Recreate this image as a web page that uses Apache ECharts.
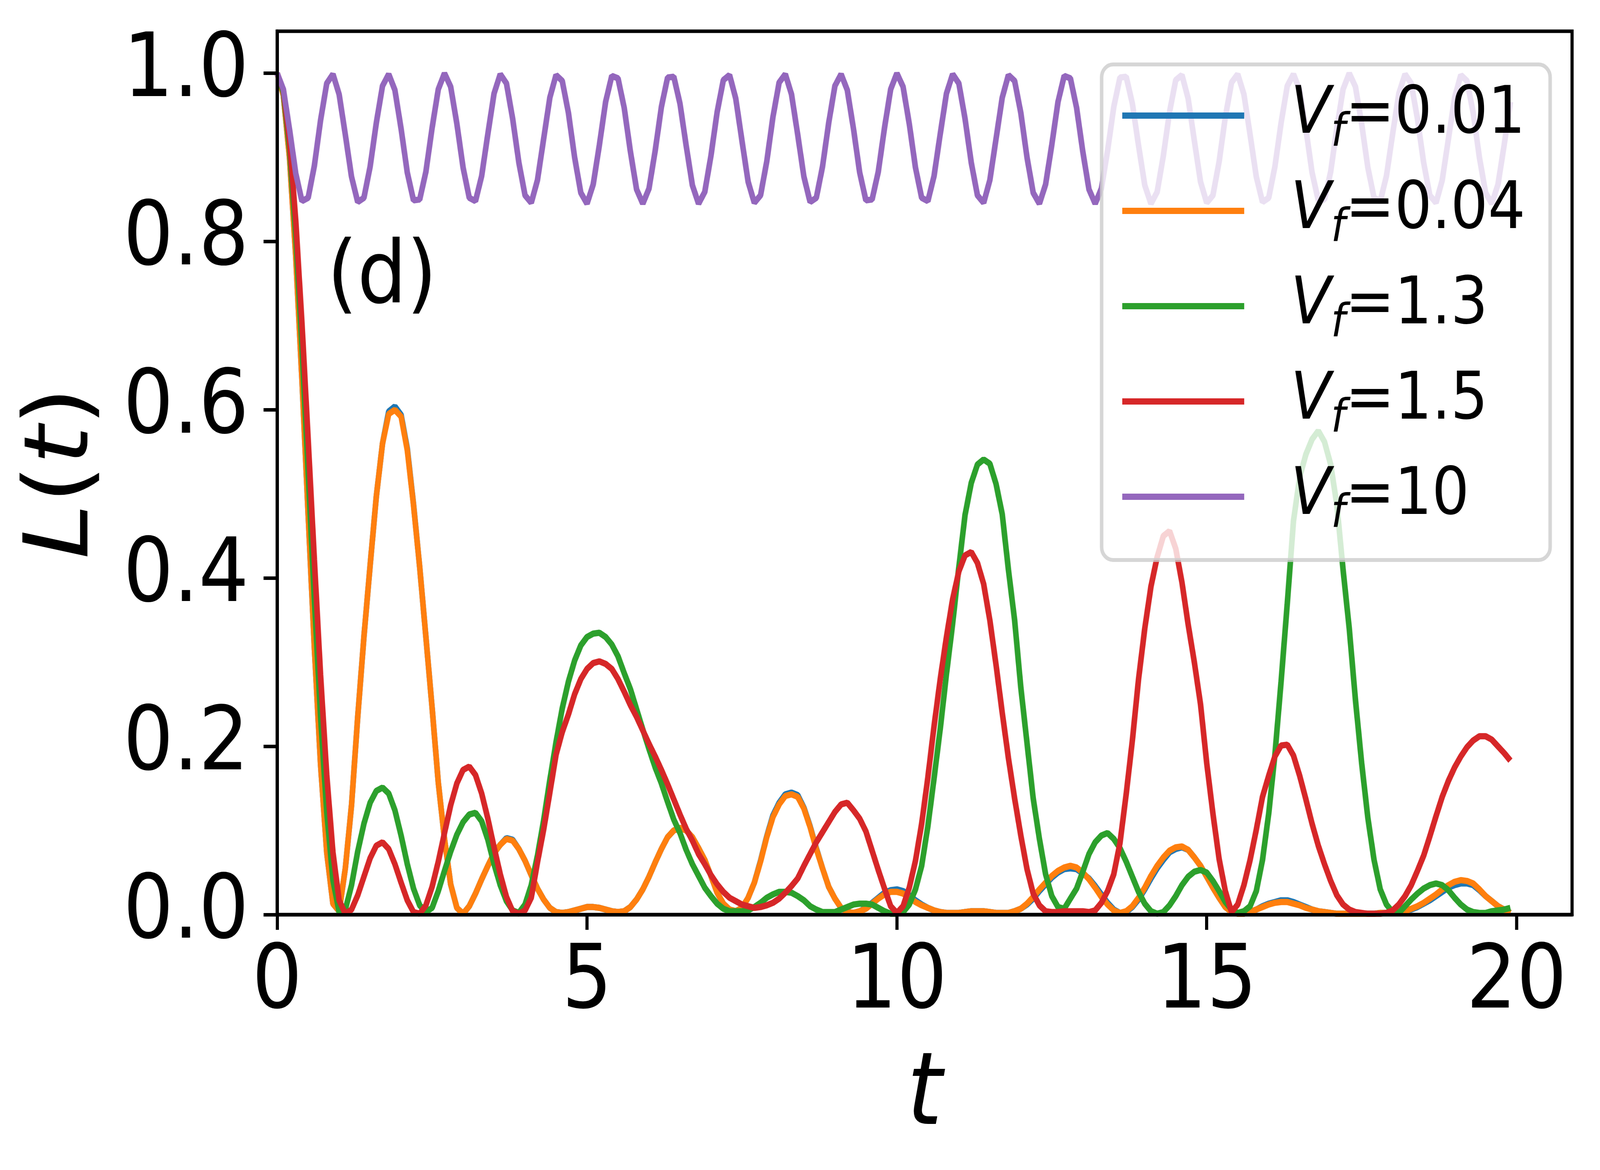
<!DOCTYPE html>
<html>
<head>
<meta charset="UTF-8">
<script src="https://cdn.jsdelivr.net/npm/echarts@6/dist/echarts.min.js"></script>
<style>
  html, body { margin: 0; padding: 0; background: #fff; overflow: hidden; }
  #chart { width: 4578px; height: 2996px; transform-origin: 0 0; }
</style>
</head>
<body>
<div id="chart"></div>
<script>
// sampling grid of the curves: t = 0, 0.1, ... 19.9
var tStep = 0.1;
var xTicks = [0, 5, 10, 15, 20];
var yTicks = [0, 0.2, 0.4, 0.6, 0.8, 1.0];
var names = ['V_f=0.01', 'V_f=0.04', 'V_f=1.3', 'V_f=1.5', 'V_f=10'];
var colors = ['#1f77b4', '#ff7f0e', '#2ca02c', '#d62728', '#9467bd'];

// L(t), one row per unit of t
var vf001 = [
  1.000,0.974,0.899,0.782,0.636,0.476,0.318,0.179,0.074,0.013,
  0.004,0.055,0.130,0.235,0.330,0.415,0.497,0.560,0.598,0.604,
  0.594,0.554,0.488,0.413,0.330,0.246,0.157,0.090,0.036,0.008,
  0.001,0.010,0.025,0.042,0.058,0.073,0.083,0.091,0.089,0.078,
  0.064,0.047,0.031,0.018,0.008,0.003,0.002,0.003,0.005,0.007,
  0.009,0.009,0.008,0.006,0.004,0.003,0.004,0.009,0.018,0.030,
  0.045,0.062,0.078,0.092,0.100,0.103,0.100,0.092,0.079,0.065,
  0.046,0.026,0.013,0.006,0.004,0.008,0.020,0.038,0.064,0.093,
  0.118,0.133,0.143,0.145,0.142,0.127,0.105,0.079,0.055,0.033,
  0.019,0.008,0.003,0.002,0.004,0.008,0.014,0.020,0.026,0.029,
  0.030,0.028,0.023,0.017,0.012,0.008,0.005,0.003,0.002,0.002,
  0.002,0.003,0.004,0.004,0.004,0.003,0.002,0.002,0.002,0.004,
  0.007,0.012,0.019,0.028,0.036,0.044,0.050,0.054,0.055,0.054,
  0.049,0.043,0.034,0.024,0.014,0.006,0.002,0.003,0.009,0.018,
  0.030,0.043,0.055,0.065,0.074,0.078,0.080,0.077,0.068,0.058,
  0.045,0.032,0.020,0.009,0.003,0.001,0.001,0.003,0.006,0.010,
  0.013,0.015,0.017,0.017,0.015,0.012,0.009,0.006,0.004,0.003,
  0.002,0.001,0.001,0.001,0.001,0.001,0.001,0.001,0.002,0.002,
  0.002,0.003,0.004,0.006,0.009,0.013,0.017,0.022,0.027,0.032,
  0.035,0.037,0.037,0.035,0.029,0.022,0.016,0.010,0.006,0.002
];
var vf004 = [
  1.000,0.974,0.899,0.782,0.636,0.476,0.318,0.179,0.074,0.013,
  0.004,0.055,0.130,0.235,0.330,0.415,0.497,0.560,0.595,0.600,
  0.592,0.552,0.487,0.413,0.330,0.246,0.157,0.090,0.036,0.008,
  0.001,0.010,0.025,0.042,0.058,0.073,0.083,0.090,0.088,0.078,
  0.064,0.047,0.031,0.018,0.008,0.003,0.002,0.003,0.005,0.007,
  0.009,0.009,0.008,0.006,0.004,0.003,0.004,0.009,0.018,0.030,
  0.045,0.062,0.078,0.092,0.100,0.103,0.100,0.092,0.079,0.065,
  0.046,0.026,0.013,0.006,0.004,0.008,0.020,0.038,0.063,0.092,
  0.116,0.131,0.141,0.143,0.140,0.126,0.104,0.078,0.055,0.033,
  0.019,0.008,0.003,0.002,0.004,0.007,0.013,0.019,0.024,0.027,
  0.027,0.025,0.020,0.015,0.011,0.008,0.005,0.003,0.002,0.002,
  0.002,0.003,0.004,0.004,0.004,0.003,0.002,0.002,0.002,0.004,
  0.007,0.013,0.021,0.030,0.038,0.046,0.052,0.056,0.058,0.056,
  0.050,0.042,0.032,0.021,0.012,0.005,0.002,0.004,0.010,0.020,
  0.032,0.046,0.058,0.068,0.076,0.080,0.081,0.077,0.068,0.058,
  0.045,0.032,0.020,0.009,0.003,0.001,0.001,0.003,0.006,0.009,
  0.012,0.014,0.015,0.015,0.013,0.011,0.008,0.006,0.004,0.003,
  0.002,0.001,0.001,0.001,0.001,0.001,0.001,0.001,0.002,0.002,
  0.002,0.003,0.004,0.007,0.010,0.014,0.019,0.024,0.030,0.035,
  0.039,0.041,0.040,0.037,0.030,0.022,0.016,0.010,0.006,0.002
];
var vf13 = [
  1.000,0.977,0.910,0.806,0.674,0.525,0.375,0.236,0.122,0.041,
  0.003,0.006,0.035,0.075,0.108,0.133,0.147,0.151,0.144,0.124,
  0.094,0.060,0.031,0.011,0.003,0.008,0.028,0.052,0.075,0.095,
  0.110,0.119,0.121,0.111,0.089,0.060,0.035,0.016,0.005,0.002,
  0.012,0.035,0.070,0.112,0.160,0.205,0.245,0.277,0.302,0.320,
  0.330,0.334,0.335,0.330,0.321,0.307,0.287,0.268,0.244,0.220,
  0.197,0.175,0.156,0.134,0.113,0.097,0.077,0.060,0.046,0.032,
  0.022,0.013,0.007,0.004,0.004,0.004,0.005,0.009,0.014,0.020,
  0.024,0.027,0.027,0.026,0.022,0.017,0.010,0.006,0.003,0.003,
  0.003,0.006,0.009,0.012,0.013,0.013,0.012,0.008,0.004,0.001,
  0.001,0.003,0.012,0.030,0.058,0.105,0.162,0.221,0.286,0.346,
  0.413,0.475,0.513,0.535,0.541,0.536,0.512,0.476,0.410,0.350,
  0.270,0.204,0.138,0.090,0.048,0.022,0.009,0.007,0.019,0.031,
  0.051,0.072,0.086,0.094,0.097,0.090,0.079,0.063,0.045,0.027,
  0.013,0.004,0.001,0.003,0.011,0.022,0.035,0.045,0.051,0.053,
  0.050,0.040,0.028,0.015,0.006,0.002,0.004,0.010,0.028,0.065,
  0.120,0.190,0.277,0.370,0.468,0.520,0.547,0.565,0.575,0.562,
  0.535,0.487,0.410,0.340,0.255,0.180,0.115,0.065,0.030,0.012,
  0.003,0.002,0.010,0.018,0.025,0.031,0.035,0.037,0.035,0.029,
  0.020,0.012,0.006,0.003,0.002,0.002,0.004,0.005,0.006,0.008
];
var vf15 = [
  1.000,0.980,0.919,0.825,0.703,0.565,0.422,0.285,0.166,0.074,
  0.017,0.001,0.006,0.023,0.045,0.067,0.082,0.086,0.078,0.060,
  0.038,0.017,0.003,0.001,0.011,0.033,0.063,0.097,0.130,0.156,
  0.172,0.176,0.166,0.144,0.114,0.080,0.048,0.021,0.004,0.001,
  0.005,0.020,0.062,0.101,0.145,0.190,0.217,0.238,0.262,0.280,
  0.292,0.299,0.301,0.298,0.292,0.280,0.265,0.249,0.235,0.219,
  0.203,0.188,0.172,0.155,0.137,0.119,0.102,0.088,0.072,0.060,
  0.047,0.036,0.027,0.020,0.016,0.012,0.010,0.008,0.009,0.011,
  0.014,0.019,0.026,0.034,0.043,0.058,0.072,0.086,0.098,0.110,
  0.122,0.131,0.133,0.124,0.114,0.099,0.076,0.053,0.031,0.010,
  0.002,0.010,0.032,0.064,0.108,0.163,0.224,0.280,0.330,0.375,
  0.408,0.427,0.431,0.418,0.393,0.350,0.297,0.240,0.186,0.138,
  0.094,0.054,0.025,0.011,0.004,0.003,0.003,0.004,0.004,0.004,
  0.004,0.003,0.005,0.014,0.028,0.048,0.085,0.143,0.207,0.280,
  0.340,0.390,0.425,0.450,0.456,0.435,0.395,0.345,0.300,0.250,
  0.180,0.120,0.066,0.028,0.003,0.012,0.035,0.065,0.101,0.140,
  0.165,0.188,0.201,0.202,0.189,0.165,0.137,0.108,0.082,0.060,
  0.040,0.023,0.012,0.006,0.003,0.002,0.001,0.001,0.001,0.002,
  0.005,0.012,0.022,0.035,0.052,0.070,0.093,0.117,0.140,0.159,
  0.175,0.188,0.199,0.207,0.212,0.212,0.208,0.200,0.192,0.183
];
var vf10 = [
  1.000,0.981,0.933,0.881,0.848,0.852,0.890,0.944,0.988,0.999,
  0.975,0.927,0.877,0.847,0.852,0.889,0.941,0.985,0.999,0.980,
  0.934,0.882,0.849,0.850,0.883,0.935,0.981,1.000,0.984,0.940,
  0.888,0.852,0.848,0.878,0.928,0.976,0.999,0.988,0.946,0.894,
  0.855,0.846,0.873,0.922,0.971,0.998,0.991,0.953,0.900,0.858,
  0.845,0.868,0.915,0.966,0.997,0.994,0.959,0.907,0.862,0.845,
  0.863,0.908,0.960,0.995,0.996,0.964,0.914,0.867,0.845,0.859,
  0.902,0.954,0.992,0.998,0.970,0.920,0.871,0.846,0.855,0.895,
  0.948,0.989,0.999,0.975,0.927,0.877,0.847,0.852,0.889,0.941,
  0.985,0.999,0.980,0.934,0.882,0.849,0.850,0.883,0.935,0.981,
  1.000,0.984,0.940,0.888,0.852,0.848,0.878,0.928,0.976,0.999,
  0.988,0.946,0.894,0.855,0.846,0.873,0.922,0.971,0.998,0.991,
  0.953,0.900,0.858,0.845,0.868,0.915,0.966,0.997,0.994,0.959,
  0.907,0.862,0.845,0.863,0.908,0.960,0.995,0.996,0.964,0.914,
  0.867,0.845,0.859,0.902,0.954,0.992,0.998,0.970,0.920,0.871,
  0.846,0.855,0.895,0.948,0.989,0.999,0.975,0.927,0.877,0.847,
  0.852,0.889,0.941,0.985,0.999,0.980,0.934,0.882,0.849,0.850,
  0.883,0.935,0.981,1.000,0.984,0.940,0.888,0.852,0.848,0.878,
  0.928,0.976,0.999,0.988,0.946,0.894,0.855,0.846,0.873,0.922,
  0.971,0.998,0.991,0.953,0.900,0.858,0.845,0.868,0.915,0.966
];
var allSeries = [vf001, vf004, vf13, vf15, vf10];

var FONT = 'DejaVu Sans';

// the browser may give a smaller viewport than the 4578x2996 figure:
// draw at full size and squeeze the whole figure to fit
var box = document.getElementById('chart');
var sx = Math.min(1, window.innerWidth / 4578);
var sy = Math.min(1, window.innerHeight / 2996);
box.style.transform = 'scale(' + sx + ',' + sy + ')';

function pairs(arr) {
  var out = [];
  for (var i = 0; i < arr.length; i++) {
    out.push([Math.round(i * tStep * 10) / 10, arr[i]]);
  }
  return out;
}

var series = [];
for (var s = 0; s < allSeries.length; s++) {
  series.push({
    name: names[s],
    type: 'line',
    data: pairs(allSeries[s]),
    symbol: 'none',
    showSymbol: false,
    smooth: false,
    clip: true,
    color: colors[s],
    lineStyle: { color: colors[s], width: 16 },
    emphasis: { disabled: true }
  });
}

var chart = echarts.init(box, null, { renderer: 'canvas', width: 4578, height: 2996 });
var option = {
  animation: false,
  backgroundColor: '#ffffff',
  title: {
    text: '(d)',
    left: 936,
    top: 605,
    padding: 0,
    textStyle: { fontFamily: FONT, fontSize: 222, fontWeight: 'normal', color: '#000' }
  },
  grid: {
    left: 793, top: 80, width: 3705, height: 2262,
    show: true, borderColor: '#000', borderWidth: 9,
    backgroundColor: 'transparent'
  },
  legend: {
    orient: 'vertical',
    left: 3152,
    top: 165,
    padding: [25, 71, 56, 59],
    itemGap: 32,
    itemWidth: 349,
    itemHeight: 16,
    icon: 'rect',
    backgroundColor: 'rgba(255,255,255,0.8)',
    borderColor: 'rgba(204,204,204,0.8)',
    borderWidth: 10,
    borderRadius: 33,
    selectedMode: false,
    data: names,
    formatter: function (name) {
      return '{v|V}{f|f}{n|=' + name.split('=')[1] + '}';
    },
    textStyle: {
      fontFamily: FONT, fontSize: 168, color: '#000',
      rich: {
        v: { fontFamily: FONT, fontSize: 168, fontStyle: 'italic', lineHeight: 200, padding: [0, 0, 0, 128] },
        f: { fontFamily: FONT, fontSize: 118, fontStyle: 'italic', lineHeight: 118, padding: [94, 0, 0, 0] },
        n: { fontFamily: FONT, fontSize: 168, lineHeight: 200 }
      }
    }
  },
  xAxis: {
    type: 'value',
    min: 0,
    max: 20.895,
    interval: 5,
    z: 10,
    name: 't',
    nameLocation: 'middle',
    nameGap: 340,
    nameTextStyle: { fontFamily: FONT, fontSize: 258, fontStyle: 'italic', color: '#000' },
    axisLine: { show: true, lineStyle: { color: '#000', width: 9 } },
    axisTick: { show: true, inside: false, length: 39, lineStyle: { color: '#000', width: 9 }, customValues: xTicks },
    axisLabel: { show: true, margin: 66, fontFamily: FONT, fontSize: 226, color: '#000', customValues: xTicks,
      formatter: function (v) { return String(v); } },
    splitLine: { show: false }
  },
  yAxis: {
    type: 'value',
    min: 0,
    max: 1.05,
    interval: 0.2,
    z: 10,
    name: '{i|L}({i|t})',
    nameLocation: 'middle',
    nameGap: 482,
    nameTextStyle: {
      fontFamily: FONT, fontSize: 255, color: '#000',
      rich: { i: { fontFamily: FONT, fontSize: 255, fontStyle: 'italic' } }
    },
    axisLine: { show: true, lineStyle: { color: '#000', width: 9 } },
    axisTick: { show: true, inside: false, length: 39, lineStyle: { color: '#000', width: 9 }, customValues: yTicks },
    axisLabel: { show: true, margin: 81, fontFamily: FONT, fontSize: 226, color: '#000', customValues: yTicks,
      formatter: function (v) { return v.toFixed(1); } },
    splitLine: { show: false }
  },
  series: series
};
chart.setOption(option);
</script>
</body>
</html>
